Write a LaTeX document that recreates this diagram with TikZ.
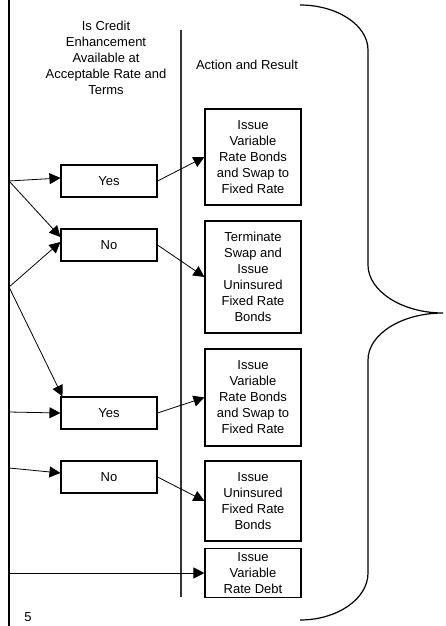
\documentclass[tikz,border=0pt]{standalone}
\usepackage{fontspec}
\setmainfont{Liberation Sans}
\usetikzlibrary{arrows.meta}
\tikzset{
  choice/.style={draw,line width=1.1pt,minimum width=96pt,minimum height=32pt,inner sep=0pt},
  result/.style={draw,line width=1.1pt,minimum width=96pt,inner sep=0pt,align=center},
  link/.style={-{Triangle[length=11pt,width=11pt]},line width=0.8pt},
}
\begin{document}
\begin{tikzpicture}[x=1pt,y=-1pt,font=\fontsize{13}{16}\selectfont]
 \useasboundingbox (0,0) rectangle (445,626);
 % frame lines
 \draw[line width=2.4pt] (9,0) -- (9,626);
 \draw[line width=1.3pt,black!80] (181,30) -- (181,597);
 % headings
 \node[align=center] (ask) at (106,58) {Is Credit\\Enhancement\\Available at\\Acceptable Rate and\\Terms};
 \node (act) at (247,65) {Action and Result};
 % answers
 \node[choice] (yesA) at (109,181) {Yes};
 \node[choice] (noA) at (109,245) {No};
 \node[choice] (yesB) at (109,413) {Yes};
 \node[choice] (noB) at (109,477) {No};
 % results
 \node[result,minimum height=96pt] (resA) at (253,157) {Issue\\Variable\\Rate Bonds\\and Swap to\\Fixed Rate};
 \node[result,minimum height=112pt] (resB) at (253,277) {Terminate\\Swap and\\Issue\\Uninsured\\Fixed Rate\\Bonds};
 \node[result,minimum height=97pt] (resC) at (253,397.5) {Issue\\Variable\\Rate Bonds\\and Swap to\\Fixed Rate};
 \node[result,minimum height=80pt] (resD) at (253,501) {Issue\\Uninsured\\Fixed Rate\\Bonds};
 \node[result,minimum height=49pt] (resE) at (253,573) {Issue\\Variable\\Rate Debt};
 \node (page) at (28,617) {5};
 % branch points on the left line
 \coordinate (l1) at (9,181);
 \coordinate (l2) at (9,287);
 \coordinate (l3) at (9,412);
 \coordinate (l4) at (9,468);
 \coordinate (l5) at (9,573);
 \draw[link] (l1) -- ([yshift=3pt]yesA.west);
 \draw[link] (l1) -- ([yshift=8pt]noA.west);
 \draw[link] (l2) -- ([yshift=3pt]noA.west);
 \draw[link] (l2) -- ([xshift=2pt]yesB.north west);
 \draw[link] (l3) -- (yesB.west);
 \draw[link] (l4) -- ([yshift=4pt]noB.west);
 \draw[link] (l5) -- (resE.west);
 \draw[link] (yesA.east) -- (resA.west);
 \draw[link] (noA.east) -- (resB.west);
 \draw[link] (yesB.east) -- (resC.west);
 \draw[link] (noB.east) -- (resD.west);
 % brace
 \draw[line width=1.2pt] (300,5) .. controls (337,5) and (368,25) .. (368,50)
  -- (368,265) .. controls (368,291) and (402,313) .. (443,313)
  .. controls (402,313) and (368,334) .. (368,360)
  -- (368,573) .. controls (368,599) and (337,620) .. (300,620);
\end{tikzpicture}
\end{document}
